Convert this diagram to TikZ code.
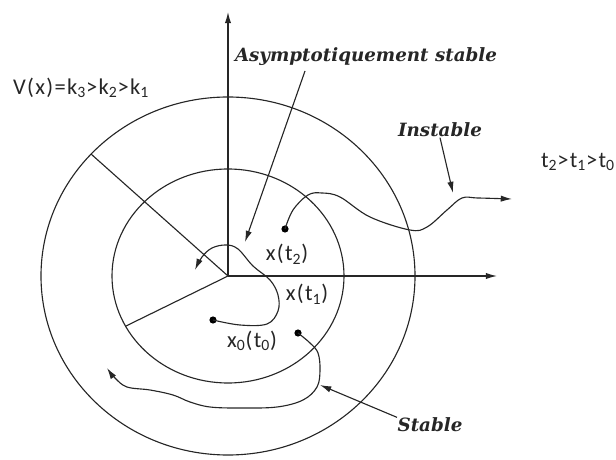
\documentclass[tikz,border=0pt]{standalone}
\usepackage{fontspec}
\usetikzlibrary{arrows.meta}
\newfontfamily\labelfont[LetterSpace=6]{Carlito}
\newfontfamily\notefont{DejaVu Serif}

\begin{document}
\begin{tikzpicture}[x=0.025cm, y=0.025cm, line width=0.8pt, black!85,
    tip/.style={-{Latex[length=8pt,width=4.5pt]}},
    dot/.style={circle, fill=black, inner sep=0pt, minimum size=0.18cm},
    sanslabel/.style={font=\labelfont\fontsize{16}{19}\selectfont, inner sep=0pt},
    note/.style={font=\notefont\bfseries\itshape\fontsize{13}{16}\selectfont, inner sep=0pt}]
\useasboundingbox (-228,-183) rectangle (388,276);
\coordinate (O) at (0,0);
\coordinate (ytip) at (0,264);
\coordinate (xtip) at (269,0);
\coordinate (r1) at (-137,122);
\coordinate (r2) at (-102,-50);
\draw (O) ellipse [x radius=116, y radius=107];
\draw (O) ellipse [x radius=187, y radius=179];
\draw[tip] (O) -- (ytip);
\draw[tip] (O) -- (xtip);
\draw (O) -- (r1);
\draw (O) -- (r2);
\node[dot] (p2) at (57,47) {};
\node[dot] (p0) at (-15,-44) {};
\node[dot] (ps) at (70,-57) {};
\draw[tip] plot[smooth, tension=0.6] coordinates {(p2) (65,66) (80,81) (94,83)
    (112,79) (142,59) (182,46) (199,49) (219,66) (234,78) (250,78) (284,77)};
\draw[tip] plot[smooth, tension=0.6] coordinates {(p0) (12,-49) (39,-48) (50,-35)
    (50,-19) (42,-4) (25,10) (10,27) (-2,31) (-16,28) (-26,19) (-33,6)};
\draw[tip] plot[smooth, tension=0.6] coordinates {(ps) (82,-67) (90,-77) (92,-94)
    (89,-111) (75,-124) (49,-131) (12,-132) (-18,-131) (-38,-126) (-55,-119)
    (-78,-114) (-101,-111) (-113,-102) (-121,-92)};
\node[sanslabel] (vlab) at (-147,188) {V(x)=k\textsubscript{3}>k\textsubscript{2}>k\textsubscript{1}};
\node[sanslabel] (tlab) at (350,114) {t\textsubscript{2}>t\textsubscript{1}>t\textsubscript{0}};
\node[sanslabel] (lx2) at (59,22) {x(t\textsubscript{2})};
\node[sanslabel] (lx1) at (79,-18) {x(t\textsubscript{1})};
\node[sanslabel] (lx0) at (24,-65) {x\textsubscript{0}(t\textsubscript{0})};
\node[note] (asym) at (138,219) {Asymptotiquement stable};
\node[note] (inst) at (212,146) {Instable};
\node[note] (stab) at (202,-149) {Stable};
\coordinate (asymfoot) at (77,205);
\coordinate (asymtip) at (17,34);
\coordinate (insttip) at (225,83);
\coordinate (stabtip) at (92,-109);
\draw[tip] (asymfoot) -- (asymtip);
\draw[tip] (inst.south) -- (insttip);
\draw[tip] (stab.north west) -- (stabtip);
\end{tikzpicture}
\end{document}
